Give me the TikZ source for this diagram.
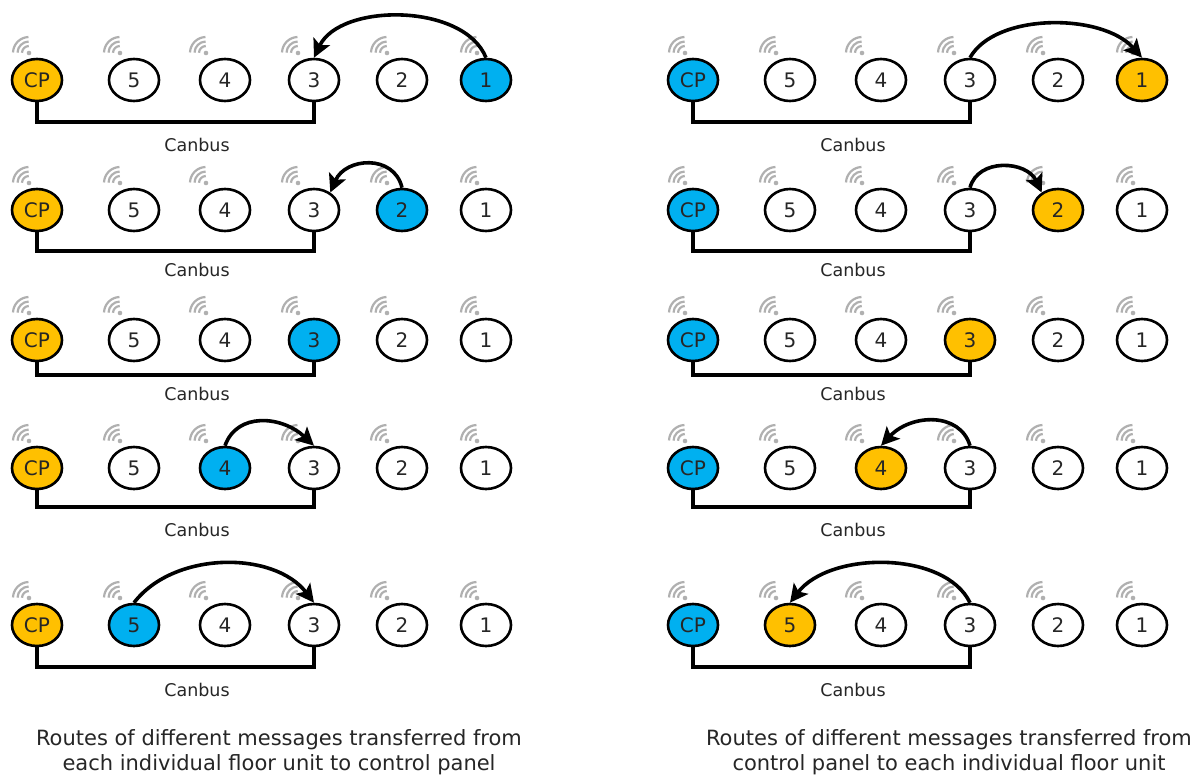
\documentclass[tikz,border=0pt]{standalone}
\usepackage{fontspec}
\setmainfont{DejaVu Sans}
\usetikzlibrary{shapes.geometric,arrows.meta}
\definecolor{amberfill}{HTML}{FFC000}
\definecolor{bluefill}{HTML}{00B0F0}
\definecolor{wifigrey}{HTML}{B0B0B0}
\definecolor{textgrey}{HTML}{262626}
\tikzset{
  unit/.style={ellipse,draw=black,line width=2.6pt,fill=white,minimum width=50pt,minimum height=42pt,inner sep=0pt,font=\fontsize{20}{22}\selectfont,text=textgrey},
  amberunit/.style={unit,fill=amberfill},
  blueunit/.style={unit,fill=bluefill},
  bus/.style={line width=3.8pt,line cap=butt},
  route/.style={line width=3.6pt,-{Stealth[length=18pt,width=18pt,inset=4pt]}},
  buslabel/.style={font=\fontsize{17.5}{20}\selectfont,text=textgrey},
  caption/.style={font=\fontsize{21}{25}\selectfont,text=textgrey,align=center},
}
% wifi glyph: #1 x, #2 y of the dot
\newcommand{\wifiglyph}[2]{%
  \fill[wifigrey] (#1,#2) circle (2.3pt);
  \foreach \rr in {7,11.5,16}{
    \draw[wifigrey,line width=2.2pt] (#1,#2) ++(178:\rr pt) arc[start angle=178,end angle=92,radius=\rr pt];
  }}
% one row: #1 prefix, #2 x of CP, #3 y of centres, #4 CP colour style, #5 highlighted digit, #6 highlight style
\newcommand{\unitrow}[6]{%
  \pgfmathsetmacro{\xa}{#2}
  \pgfmathsetmacro{\xf}{#2+97}
  \pgfmathsetmacro{\xd}{#2+188}
  \pgfmathsetmacro{\xc}{#2+277}
  \pgfmathsetmacro{\xb}{#2+365}
  \pgfmathsetmacro{\xe}{#2+449}
  \pgfmathsetmacro{\wy}{#3-27}
  \pgfmathsetmacro{\wa}{\xa-8}\wifiglyph{\wa}{\wy}
  \pgfmathsetmacro{\wa}{\xf-14}\wifiglyph{\wa}{\wy}
  \pgfmathsetmacro{\wa}{\xd-19}\wifiglyph{\wa}{\wy}
  \pgfmathsetmacro{\wa}{\xc-16}\wifiglyph{\wa}{\wy}
  \pgfmathsetmacro{\wa}{\xb-15}\wifiglyph{\wa}{\wy}
  \pgfmathsetmacro{\wa}{\xe-9}\wifiglyph{\wa}{\wy}
  \node[#4] (#1cp) at (\xa,#3) {CP};
  \ifnum#5=5 \node[#6] (#1u5) at (\xf,#3) {5}; \else \node[unit] (#1u5) at (\xf,#3) {5}; \fi
  \ifnum#5=4 \node[#6] (#1u4) at (\xd,#3) {4}; \else \node[unit] (#1u4) at (\xd,#3) {4}; \fi
  \ifnum#5=3 \node[#6] (#1u3) at (\xc,#3) {3}; \else \node[unit] (#1u3) at (\xc,#3) {3}; \fi
  \ifnum#5=2 \node[#6] (#1u2) at (\xb,#3) {2}; \else \node[unit] (#1u2) at (\xb,#3) {2}; \fi
  \ifnum#5=1 \node[#6] (#1u1) at (\xe,#3) {1}; \else \node[unit] (#1u1) at (\xe,#3) {1}; \fi
}
\newcommand{\busrow}[4]{%
  \coordinate (#1bl) at (#2,#3);
  \draw[bus] (#1cp.south) |- (#1bl) -| (#1u3.south);
  \node[buslabel] (#1lab) at (#2+160,#4) {Canbus};
}
\begin{document}
\begin{tikzpicture}[x=1pt,y=-1pt]
\useasboundingbox (0,0) rectangle (1193,774);
\fill[white] (0,0) rectangle (1193,774);
% left column
\unitrow{la}{37}{80}{amberunit}{1}{blueunit}
\unitrow{lb}{37}{210}{amberunit}{2}{blueunit}
\unitrow{lc}{37}{340}{amberunit}{3}{blueunit}
\unitrow{ld}{37}{468}{amberunit}{4}{blueunit}
\unitrow{le}{37}{625}{amberunit}{5}{blueunit}
% right column
\unitrow{ra}{693}{80}{blueunit}{1}{amberunit}
\unitrow{rb}{693}{210}{blueunit}{2}{amberunit}
\unitrow{rc}{693}{340}{blueunit}{3}{amberunit}
\unitrow{rd}{693}{468}{blueunit}{4}{amberunit}
\unitrow{re}{693}{625}{blueunit}{5}{amberunit}
% buses
\busrow{la}{37}{122}{145}
\busrow{lb}{37}{251}{270}
\busrow{lc}{37}{375}{394}
\busrow{ld}{37}{507}{530}
\busrow{le}{37}{667}{690}
\busrow{ra}{693}{122}{145}
\busrow{rb}{693}{251}{270}
\busrow{rc}{693}{375}{394}
\busrow{rd}{693}{507}{530}
\busrow{re}{693}{667}{690}
% routes
\draw[route] (lau1.north) .. controls +(-22,-55) and +(26,-55) .. (lau3.north);
\draw[route] (lbu2.north) .. controls +(-8,-34) and +(15,-35) .. (lbu3.47);
\draw[route] (ldu4.north) .. controls +(12,-34) and +(-32,-30) .. (ldu3.north);
\draw[route] (leu5.north) .. controls +(40,-52) and +(-40,-52) .. (leu3.north);
\draw[route] (rau3.north) .. controls +(25,-45) and +(-40,-45) .. (rau1.north);
\draw[route] (rbu3.north) .. controls +(8,-30) and +(-15,-32) .. (rbu2.133);
\draw[route] (rdu3.north) .. controls +(-10,-34) and +(30,-32) .. (rdu4.north);
\draw[route] (reu3.north) .. controls +(-25,-52) and +(40,-52) .. (reu5.north);
% captions
\node[caption] (capl) at (279,752) {Routes of different messages transferred from\\each individual floor unit to control panel};
\node[caption] (capr) at (949,752) {Routes of different messages transferred from\\control panel to each individual floor unit};
\end{tikzpicture}
\end{document}
